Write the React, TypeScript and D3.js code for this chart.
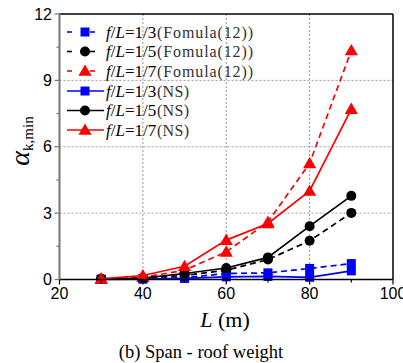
import React from "react";
import * as d3 from "d3";

// Span L (m)
const spans = [30, 40, 50, 60, 70, 80, 90];

// α_k,min from Formula (12)
const formulaF3 = [0.01, 0.03, 0.08, 0.27, 0.3, 0.5, 0.72];
const formulaF5 = [0.02, 0.07, 0.18, 0.42, 0.9, 1.75, 3.01];
const formulaF7 = [0.03, 0.1, 0.42, 1.25, 2.6, 5.25, 10.35];

// α_k,min from numerical simulation (NS)
const nsF3 = [0.01, 0.02, 0.05, 0.12, 0.14, 0.1, 0.39];
const nsF5 = [0.02, 0.06, 0.27, 0.52, 1.0, 2.41, 3.78];
const nsF7 = [0.03, 0.18, 0.6, 1.78, 2.53, 4.0, 7.7];

const xTicks = [20, 40, 60, 80, 100];
const xMinor = [30, 50, 70, 90];
const yTicks = [0, 3, 6, 9, 12];
const yMinor = [1.5, 4.5, 7.5, 10.5];

const ratios = ["1/3", "1/5", "1/7"];

type Series = {
  ratio: string;
  values: number[];
  color: string;
  marker: "square" | "circle" | "triangle";
  dashed: boolean;
  tag: string;
};

const series: Series[] = [
  { ratio: ratios[0], values: formulaF3, color: "#0000ff", marker: "square", dashed: true, tag: "(Fomula(12))" },
  { ratio: ratios[1], values: formulaF5, color: "#000000", marker: "circle", dashed: true, tag: "(Fomula(12))" },
  { ratio: ratios[2], values: formulaF7, color: "#ff0000", marker: "triangle", dashed: true, tag: "(Fomula(12))" },
  { ratio: ratios[0], values: nsF3, color: "#0000ff", marker: "square", dashed: false, tag: "(NS)" },
  { ratio: ratios[1], values: nsF5, color: "#000000", marker: "circle", dashed: false, tag: "(NS)" },
  { ratio: ratios[2], values: nsF7, color: "#ff0000", marker: "triangle", dashed: false, tag: "(NS)" },
];

const W = 403;
const H = 363;
const M = { left: 59.5, right: 393, top: 14, bottom: 279.5 };

const x = d3.scaleLinear().domain([20, 100]).range([M.left, M.right]);
const y = d3.scaleLinear().domain([0, 12]).range([M.bottom, M.top]);

const serif = "Liberation Serif, DejaVu Serif, serif";
const sans = "Liberation Sans, Arial, sans-serif";

function Marker({ kind, cx, cy, color }: { kind: Series["marker"]; cx: number; cy: number; color: string }) {
  if (kind === "square") return <rect x={cx - 4.5} y={cy - 4.5} width={9} height={9} fill={color} />;
  if (kind === "circle") return <circle cx={cx} cy={cy} r={5} fill={color} />;
  const path = d3.symbol(d3.symbolTriangle, 75)();
  return <path d={path || ""} transform={`translate(${cx},${cy + 1})`} fill={color} />;
}

export default function App() {
  const line = d3
    .line<number>()
    .x((_, i) => x(spans[i]))
    .y((v) => y(v));

  const legendY = [32, 51.5, 71, 91, 110.5, 130];

  return (
    <svg width={W} height={H} style={{ position: "absolute", left: 0, top: 0 }}>
      <rect width={W} height={H} fill="#fff" />

      {/* grid */}
      {[40, 60, 80].map((t) => (
        <line key={"gx" + t} x1={x(t)} x2={x(t)} y1={M.top} y2={M.bottom} stroke="#999" strokeWidth={1} strokeDasharray="2,2" />
      ))}
      {[3, 6, 9].map((t) => (
        <line key={"gy" + t} x1={M.left} x2={M.right} y1={y(t)} y2={y(t)} stroke="#999" strokeWidth={1} strokeDasharray="2,2" />
      ))}

      {/* series */}
      {series.map((s, k) => (
        <g key={"s" + k}>
          <path
            d={line(s.values) || ""}
            fill="none"
            stroke={s.color}
            strokeWidth={1.7}
            strokeDasharray={s.dashed ? "6,4" : undefined}
          />
          {s.values.map((v, i) => (
            <Marker key={i} kind={s.marker} cx={x(spans[i])} cy={y(v)} color={s.color} />
          ))}
        </g>
      ))}

      {/* frame */}
      <line x1={M.left} x2={M.right} y1={M.top} y2={M.top} stroke="#000" strokeWidth={1.5} />
      <line x1={M.right} x2={M.right} y1={M.top} y2={M.bottom} stroke="#000" strokeWidth={1.5} />
      <line x1={M.left} x2={M.right} y1={M.bottom} y2={M.bottom} stroke="#000" strokeWidth={1.5} />
      <line x1={M.left} x2={M.left} y1={M.top - 0.75} y2={M.bottom + 0.75} stroke="#777" strokeWidth={2} />

      {/* x axis */}
      {xTicks.map((t) => (
        <g key={"xt" + t}>
          <line x1={x(t)} x2={x(t)} y1={M.bottom} y2={M.bottom + 5} stroke="#000" strokeWidth={1.2} />
          <text x={x(t)} y={299} textAnchor="middle" fontFamily={sans} fontSize={16} fill="#000">
            {t}
          </text>
        </g>
      ))}
      {xMinor.map((t) => (
        <line key={"xm" + t} x1={x(t)} x2={x(t)} y1={M.bottom} y2={M.bottom + 3} stroke="#000" strokeWidth={1.2} />
      ))}

      {/* y axis */}
      {yTicks.map((t) => (
        <g key={"yt" + t}>
          <line x1={M.left - 5} x2={M.left} y1={y(t)} y2={y(t)} stroke="#777" strokeWidth={1.2} />
          <text x={52} y={y(t) + 5.5} textAnchor="end" fontFamily={sans} fontSize={16} fill="#000">
            {t}
          </text>
        </g>
      ))}
      {yMinor.map((t) => (
        <line key={"ym" + t} x1={M.left - 3} x2={M.left} y1={y(t)} y2={y(t)} stroke="#777" strokeWidth={1.2} />
      ))}

      {/* axis titles */}
      <text x={225} y={327} textAnchor="middle" fontFamily={serif} fontSize={22} fill="#000">
        <tspan fontStyle="italic">L</tspan> (m)
      </text>
      <text transform="translate(29,141) rotate(-90)" textAnchor="middle" fontFamily={serif} fill="#000">
        <tspan fontSize={28} fontStyle="italic">α</tspan>
        <tspan fontSize={15} dy={4}>k,min</tspan>
      </text>

      <text x={201} y={358} textAnchor="middle" fontFamily={serif} fontSize={18.5} fill="#000">
        (b) Span - roof weight
      </text>

      {/* legend */}
      {series.map((s, k) => {
        const ly = legendY[k];
        return (
          <g key={"lg" + k}>
            {s.dashed ? (
              <>
                <line x1={67} x2={72} y1={ly} y2={ly} stroke={s.color} strokeWidth={1.6} />
                <line x1={90} x2={95} y1={ly} y2={ly} stroke={s.color} strokeWidth={1.6} />
              </>
            ) : (
              <line x1={67} x2={104} y1={ly} y2={ly} stroke={s.color} strokeWidth={1.6} />
            )}
            <Marker kind={s.marker} cx={85} cy={ly} color={s.color} />
            <text x={106} y={ly + 5.5} fontFamily={serif} fontSize={17} fill="#000">
              <tspan fontStyle="italic">f</tspan>
              <tspan>/</tspan>
              <tspan fontStyle="italic">L</tspan>
              <tspan>={s.ratio}</tspan>
            </text>
            <text
              x={157}
              y={ly + 5.5}
              fontFamily={serif}
              fontSize={16}
              fill="#333"
              textLength={s.dashed ? 96 : 32}
              lengthAdjust="spacing"
            >
              {s.tag}
            </text>
          </g>
        );
      })}
    </svg>
  );
}
